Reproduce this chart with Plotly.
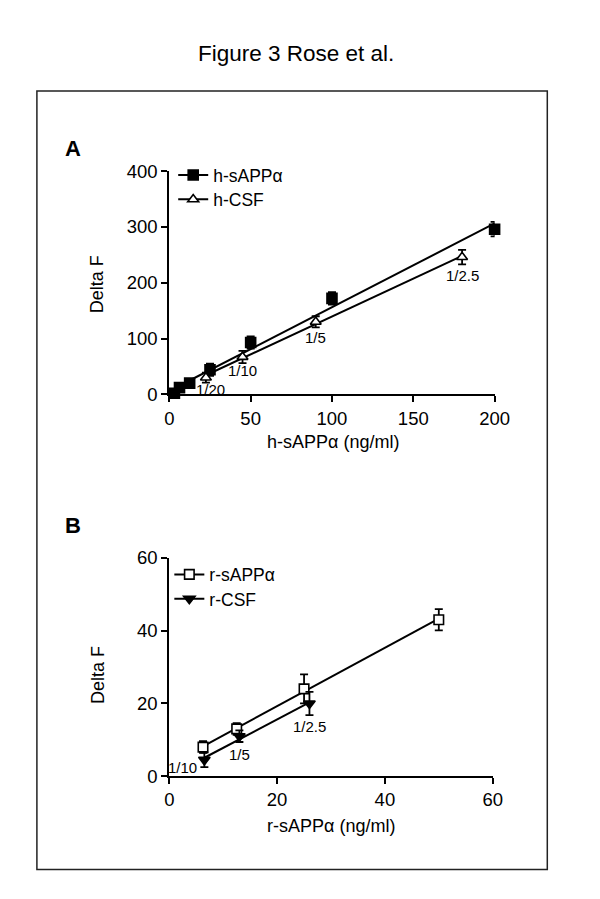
import numpy as np
import plotly.graph_objects as go

# ---------------- data ----------------
hs_x = [3.125, 6.25, 12.5, 25, 50, 100, 200]
hs_y = [2, 12, 20, 44, 93, 172, 296]
hs_err = [3, 4, 4, 11, 11, 11, 13]

hc_x = [22.5, 45, 90, 180]
hc_y = [30, 67, 130, 246]
hc_err = [9, 11, 10, 13]
hc_labels = ["1/20", "1/10", "1/5", "1/2.5"]

rs_x = [6.25, 12.5, 25, 50]
rs_y = [8, 13, 24, 43]
rs_err = [1.6, 1.6, 4, 2.9]

rc_x = [6.5, 13, 26]
rc_y = [4.5, 11, 20]
rc_err = [2, 1.6, 3.2]
rc_labels = ["1/10", "1/5", "1/2.5"]

xticks_a = [0, 50, 100, 150, 200]
yticks_a = [0, 100, 200, 300, 400]
xticks_b = [0, 20, 40, 60]
yticks_b = [0, 20, 40, 60]

FONT = "Arial, Liberation Sans, sans-serif"
W, H = 600, 899

def px(x):
    return x / W

def py(y):
    return 1 - y / H

fig = go.Figure()

def fit_line(xs, ys, xaxis, yaxis):
    m, b = np.polyfit(xs, ys, 1)
    xx = np.array([min(xs), max(xs)])
    fig.add_trace(go.Scatter(x=xx, y=m * xx + b, mode="lines",
                             line=dict(color="black", width=2),
                             showlegend=False, hoverinfo="skip",
                             xaxis=xaxis, yaxis=yaxis, cliponaxis=False))

def points(xs, ys, err, symbol, fill, size, xaxis, yaxis):
    fig.add_trace(go.Scatter(x=xs, y=ys, mode="markers",
                             marker=dict(symbol=symbol, size=size, color=fill,
                                         line=dict(color="black", width=1.6)),
                             error_y=dict(type="data", array=err, color="black",
                                          thickness=1.8, width=4),
                             showlegend=False, xaxis=xaxis, yaxis=yaxis,
                             cliponaxis=False))

def legend_entry(name, symbol, fill, size, legend):
    fig.add_trace(go.Scatter(x=[None], y=[None], mode="lines+markers", name=name,
                             marker=dict(symbol=symbol, size=size, color=fill,
                                         line=dict(color="black", width=1.6)),
                             line=dict(color="black", width=2),
                             legend=legend, xaxis="x", yaxis="y"))

# Panel A
fit_line(hs_x, hs_y, "x", "y")
fit_line(hc_x, hc_y, "x", "y")
points(hs_x, hs_y, hs_err, "square", "black", 10, "x", "y")
points(hc_x, hc_y, hc_err, "triangle-up", "white", 9.5, "x", "y")

# Panel B
fit_line(rs_x, rs_y, "x2", "y2")
fit_line(rc_x, rc_y, "x2", "y2")
points(rs_x, rs_y, rs_err, "square", "white", 9.5, "x2", "y2")
points(rc_x, rc_y, rc_err, "triangle-down", "black", 10, "x2", "y2")

legend_entry("h-sAPPα", "square", "black", 10, "legend")
legend_entry("h-CSF", "triangle-up", "white", 9.5, "legend2")
legend_entry("r-sAPPα", "square", "white", 9.5, "legend3")
legend_entry("r-CSF", "triangle-down", "black", 10, "legend4")

axis_common = dict(showline=True, linecolor="black", linewidth=2,
                   ticks="outside", ticklen=6, tickwidth=2, tickcolor="black",
                   showgrid=False, zeroline=False,
                   tickfont=dict(family=FONT, size=18.5, color="black"))

fig.update_layout(
    width=W, height=H,
    margin=dict(l=0, r=0, t=0, b=0),
    paper_bgcolor="white", plot_bgcolor="white",
    font=dict(family=FONT, color="black"),
    xaxis=dict(domain=[px(170), px(506.5)], range=[0, 200], tickvals=xticks_a,
               anchor="y", **axis_common),
    yaxis=dict(domain=[py(392.5), py(164)], range=[0, 400], tickvals=yticks_a,
               anchor="x", **axis_common),
    xaxis2=dict(domain=[px(170), px(504.5)], range=[0, 60], tickvals=xticks_b,
                anchor="y2", **axis_common),
    yaxis2=dict(domain=[py(783.5), py(560)], range=[0, 60], tickvals=yticks_b,
                anchor="x2", **axis_common),
)

leg_common = dict(xanchor="left", yanchor="middle", bgcolor="rgba(0,0,0,0)",
                  font=dict(family=FONT, size=17.5, color="black"),
                  itemclick=False, itemdoubleclick=False)
fig.update_layout(
    legend=dict(x=px(174), y=py(168), **leg_common),
    legend2=dict(x=px(174), y=py(193), **leg_common),
    legend3=dict(x=px(170), y=py(577), **leg_common),
    legend4=dict(x=px(170), y=py(602), **leg_common),
)

ann = []
# dilution labels
for xv, yv, lab, xs_, ys_ in zip(hc_x, hc_y, hc_labels, [5, 0, 0, 0], [-12, -14, -16, -18]):
    ann.append(dict(x=xv, y=yv, xref="x", yref="y", text=lab, showarrow=False,
                    xshift=xs_, yshift=ys_, font=dict(family=FONT, size=15)))
for xv, yv, lab, xs_, ys_ in zip(rc_x, rc_y, rc_labels, [-22, 0, 0], [-8, -18, -23]):
    ann.append(dict(x=xv, y=yv, xref="x2", yref="y2", text=lab, showarrow=False,
                    xshift=xs_, yshift=ys_, font=dict(family=FONT, size=15)))

# titles and labels
def paper_text(x, y, text, size, bold=False, angle=0):
    t = f"<b>{text}</b>" if bold else text
    return dict(x=px(x), y=py(y), xref="paper", yref="paper", text=t,
                showarrow=False, textangle=angle, xanchor="center", yanchor="middle",
                font=dict(family=FONT, size=size, color="black"))

ann.append(paper_text(301, 44, "Figure 3 Rose et al.", 22.5))
ann.append(paper_text(70.5, 141, "A", 22, bold=True))
ann.append(paper_text(70.5, 526.5, "B", 22, bold=True))
ann.append(paper_text(96, 280, "Delta F", 18, angle=-90))
ann.append(paper_text(96, 680, "Delta F", 18, angle=-90))
ann.append(paper_text(339, 441.5, "h-sAPPα (ng/ml)", 18))
ann.append(paper_text(337, 834, "r-sAPPα (ng/ml)", 18))
fig.update_layout(annotations=ann)

fig.add_shape(type="rect", xref="paper", yref="paper",
              x0=px(33), x1=px(561), y0=py(879), y1=py(82),
              line=dict(color="#222222", width=1.5))

fig.write_html(
    "out.html",
    config={"displayModeBar": False, "staticPlot": True},
    post_script="document.body.style.margin='0';document.body.style.padding='0';"
                "document.body.style.overflow='hidden';"
                "document.documentElement.style.overflow='hidden';",
)
